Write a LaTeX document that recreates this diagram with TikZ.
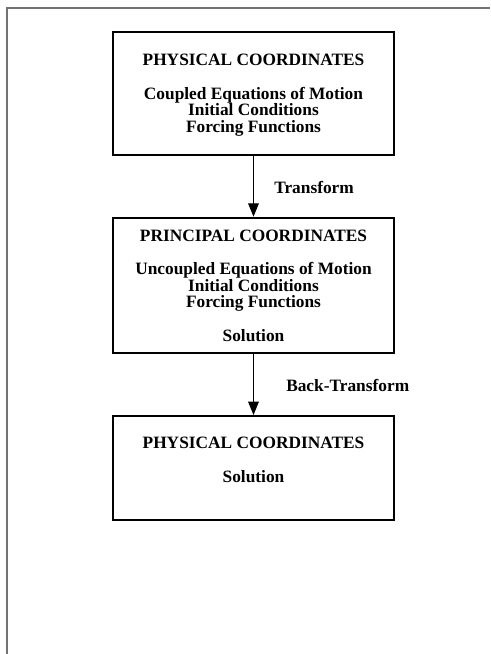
\documentclass[tikz,border=0pt]{standalone}
\usepackage{fontspec}
\setmainfont{Liberation Serif}
\usetikzlibrary{arrows.meta}

\tikzset{
  coordbox/.style={rectangle, draw, line width=1.5pt, minimum width=210.75pt, align=center, inner sep=0pt, text depth=0pt, font=\bfseries\fontsize{13}{12.5}\selectfont},
  steplabel/.style={anchor=west, inner sep=0pt, font=\bfseries\fontsize{13}{12.5}\selectfont},
  flow/.style={-{Triangle[length=10pt,width=8pt]}, line width=0.75pt},
  pageframe/.style={draw=black!55, line width=1.2pt}
}

\begin{document}
\begin{tikzpicture}[x=0.75pt, y=-0.75pt]
    \useasboundingbox (0,0) rectangle (490,654);
    \draw[pageframe] (7,654) -- (7,8) -- (490,8);

    \node[coordbox, minimum height=92.25pt] (phys1) at (253.5,93.5)
        {PHYSICAL COORDINATES\\[12.5pt]Coupled Equations of Motion\\Initial Conditions\\Forcing Functions};
    \node[coordbox, minimum height=101.7pt] (princ) at (253.5,285.5)
        {PRINCIPAL COORDINATES\\[12.5pt]Uncoupled Equations of Motion\\Initial Conditions\\Forcing Functions\\[12.5pt]Solution};
    \node[coordbox, minimum height=78pt] (phys2) at (253.5,468)
        {PHYSICAL COORDINATES\\[12.5pt]Solution\\\mbox{}};

    \draw[flow] (phys1) -- (princ);
    \draw[flow] (princ) -- (phys2);

    \node[steplabel] (fwd) at (274,187.3) {Transform};
    \node[steplabel] (back) at (286,385.7) {Back-Transform};
\end{tikzpicture}
\end{document}
